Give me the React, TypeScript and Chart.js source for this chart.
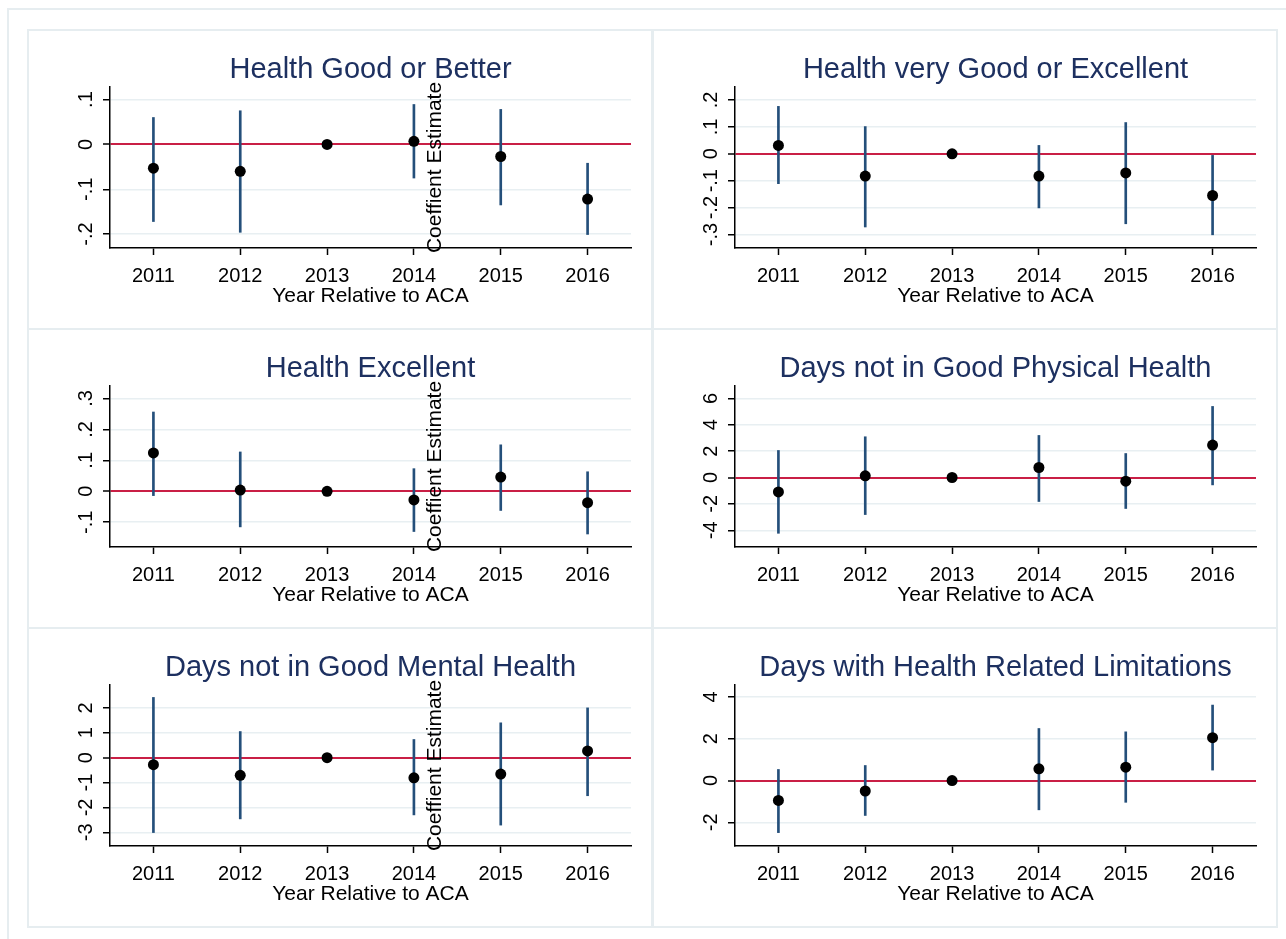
import React, { useEffect, useRef } from 'react';
import { Chart, registerables } from 'chart.js';

Chart.register(...registerables);

const FONT = '"Liberation Sans", Arial, Helvetica, sans-serif';
const TITLE_COLOR = '#1d3060';
const CI_COLOR = '#244f7a';
const ZERO_COLOR = '#c91f45';
const GRID_COLOR = '#e8eff2';
const FRAME_COLOR = '#e6edf0';

const YEARS = [2011, 2012, 2013, 2014, 2015, 2016];
const X_RANGE = [2010.5, 2016.5];
const X_AXIS_TITLE = 'Year Relative to ACA';
const Y_AXIS_TITLE = 'Coeffient Estimate';

// Health good or better
const GOOD_EST = [-0.053, -0.06, 0, 0.007, -0.027, -0.122];
const GOOD_LO = [-0.172, -0.196, 0, -0.075, -0.135, -0.201];
const GOOD_HI = [0.06, 0.075, 0, 0.089, 0.078, -0.042];
const GOOD_TICKS = [-0.2, -0.1, 0, 0.1];
const GOOD_TICK_LABELS = ['-.2', '-.1', '0', '.1'];
const GOOD_RANGE = [-0.231, 0.128];

// Health very good or excellent
const VGOOD_EST = [0.031, -0.083, 0, -0.083, -0.071, -0.155];
const VGOOD_LO = [-0.111, -0.272, 0, -0.201, -0.26, -0.301];
const VGOOD_HI = [0.176, 0.101, 0, 0.031, 0.116, -0.006];
const VGOOD_TICKS = [-0.3, -0.2, -0.1, 0, 0.1, 0.2];
const VGOOD_TICK_LABELS = ['-.3', '-.2', '-.1', '0', '.1', '.2'];
const VGOOD_RANGE = [-0.35, 0.248];

// Health excellent
const EXC_EST = [0.124, 0.004, 0, -0.028, 0.046, -0.037];
const EXC_LO = [-0.014, -0.115, 0, -0.13, -0.062, -0.138];
const EXC_HI = [0.256, 0.127, 0, 0.073, 0.15, 0.063];
const EXC_TICKS = [-0.1, 0, 0.1, 0.2, 0.3];
const EXC_TICK_LABELS = ['-.1', '0', '.1', '.2', '.3'];
const EXC_RANGE = [-0.18, 0.34];

// Days not in good physical health
const PHYS_EST = [-1.09, 0.13, 0, 0.76, -0.28, 2.46];
const PHYS_LO = [-4.23, -2.81, 0, -1.82, -2.35, -0.56];
const PHYS_HI = [2.05, 3.09, 0, 3.19, 1.82, 5.39];
const PHYS_TICKS = [-4, -2, 0, 2, 4, 6];
const PHYS_TICK_LABELS = ['-4', '-2', '0', '2', '4', '6'];
const PHYS_RANGE = [-5.27, 6.94];

// Days not in good mental health
const MENT_EST = [-0.28, -0.71, 0, -0.81, -0.66, 0.27];
const MENT_LO = [-3.01, -2.46, 0, -2.3, -2.71, -1.53];
const MENT_HI = [2.42, 1.05, 0, 0.73, 1.4, 2.0];
const MENT_TICKS = [-3, -2, -1, 0, 1, 2];
const MENT_TICK_LABELS = ['-3', '-2', '-1', '0', '1', '2'];
const MENT_RANGE = [-3.55, 2.92];

// Days with health related limitations
const LIMIT_EST = [-0.95, -0.5, 0, 0.56, 0.64, 2.05];
const LIMIT_LO = [-2.49, -1.67, 0, -1.4, -1.04, 0.5];
const LIMIT_HI = [0.53, 0.72, 0, 2.49, 2.33, 3.61];
const LIMIT_TICKS = [-2, 0, 2, 4];
const LIMIT_TICK_LABELS = ['-2', '0', '2', '4'];
const LIMIT_RANGE = [-3.13, 4.57];

type PanelSpec = {
  title: string;
  est: number[];
  lo: number[];
  hi: number[];
  ticks: number[];
  tickLabels: string[];
  range: number[];
  col: number;
  row: number;
  yTitle: boolean;
};

const PANELS: PanelSpec[] = [
  { title: 'Health Good or Better', est: GOOD_EST, lo: GOOD_LO, hi: GOOD_HI, ticks: GOOD_TICKS, tickLabels: GOOD_TICK_LABELS, range: GOOD_RANGE, col: 0, row: 0, yTitle: true },
  { title: 'Health very Good or Excellent', est: VGOOD_EST, lo: VGOOD_LO, hi: VGOOD_HI, ticks: VGOOD_TICKS, tickLabels: VGOOD_TICK_LABELS, range: VGOOD_RANGE, col: 1, row: 0, yTitle: false },
  { title: 'Health Excellent', est: EXC_EST, lo: EXC_LO, hi: EXC_HI, ticks: EXC_TICKS, tickLabels: EXC_TICK_LABELS, range: EXC_RANGE, col: 0, row: 1, yTitle: true },
  { title: 'Days not in Good Physical Health', est: PHYS_EST, lo: PHYS_LO, hi: PHYS_HI, ticks: PHYS_TICKS, tickLabels: PHYS_TICK_LABELS, range: PHYS_RANGE, col: 1, row: 1, yTitle: false },
  { title: 'Days not in Good Mental Health', est: MENT_EST, lo: MENT_LO, hi: MENT_HI, ticks: MENT_TICKS, tickLabels: MENT_TICK_LABELS, range: MENT_RANGE, col: 0, row: 2, yTitle: true },
  { title: 'Days with Health Related Limitations', est: LIMIT_EST, lo: LIMIT_LO, hi: LIMIT_HI, ticks: LIMIT_TICKS, tickLabels: LIMIT_TICK_LABELS, range: LIMIT_RANGE, col: 1, row: 2, yTitle: false },
];

const COL_LEFT = [27, 652];
const ROW_TOP = [29, 328, 627];
const PANEL_W = 626;
const PANEL_H = 300;
const AREA_LEFT = 83;
const AREA_TOP = 58;
const AREA_RIGHT_PAD = 21;
const AREA_BOTTOM = 219;

// Titles, tick labels and axis titles, drawn in Stata's layout (rotated y labels).
const panelTextPlugin = {
  id: 'panelText',
  afterDraw(chart: any, _args: any, opts: any) {
    const { ctx, chartArea } = chart;
    const xs = chart.scales.x;
    const ys = chart.scales.y;
    const cx = (chartArea.left + chartArea.right) / 2;
    ctx.save();
    ctx.textBaseline = 'alphabetic';
    ctx.textAlign = 'center';

    ctx.fillStyle = TITLE_COLOR;
    ctx.font = `29px ${FONT}`;
    ctx.fillText(opts.title, cx, chartArea.top - 9);

    ctx.fillStyle = '#000';
    ctx.font = `20px ${FONT}`;
    xs.ticks.forEach((t: any) => {
      ctx.fillText(String(t.value), xs.getPixelForValue(t.value), chartArea.bottom + 34);
    });

    ctx.font = `21px ${FONT}`;
    ctx.fillText(X_AXIS_TITLE, cx, chartArea.bottom + 54);

    ctx.font = `20px ${FONT}`;
    ys.ticks.forEach((t: any, i: number) => {
      const py = ys.getPixelForValue(t.value);
      ctx.save();
      ctx.translate(chartArea.left - 18, py);
      ctx.rotate(-Math.PI / 2);
      ctx.fillText(opts.tickLabels[i] ?? String(t.value), 0, 0);
      ctx.restore();
    });

    if (opts.yTitle) {
      ctx.save();
      ctx.font = `21px ${FONT}`;
      ctx.translate(chartArea.left + 331, (chartArea.top + chartArea.bottom) / 2);
      ctx.rotate(-Math.PI / 2);
      ctx.fillText(Y_AXIS_TITLE, 0, 0);
      ctx.restore();
    }
    ctx.restore();
  },
};

function Panel({ spec }: { spec: PanelSpec }) {
  const ref = useRef<HTMLCanvasElement | null>(null);

  useEffect(() => {
    if (!ref.current) return;
    const chart = new Chart(ref.current, {
      type: 'bar',
      data: {
        datasets: [
          {
            type: 'scatter',
            data: YEARS.map((x, i) => ({ x, y: spec.est[i] })),
            pointRadius: 5.5,
            pointBackgroundColor: '#000',
            pointBorderColor: '#000',
            pointBorderWidth: 0,
            order: 0,
          } as any,
          {
            type: 'bar',
            data: YEARS.map((x, i) => ({ x, y: [spec.lo[i], spec.hi[i]] })),
            backgroundColor: CI_COLOR,
            borderWidth: 0,
            barThickness: 2,
            grouped: false,
            order: 1,
          } as any,
        ],
      },
      options: {
        responsive: false,
        animation: false,
        devicePixelRatio: 1,
        layout: { padding: { top: AREA_TOP, right: AREA_RIGHT_PAD, left: 0, bottom: 0 } },
        events: [],
        plugins: {
          legend: { display: false },
          tooltip: { enabled: false },
          title: { display: false },
          panelText: { title: spec.title, tickLabels: spec.tickLabels, yTitle: spec.yTitle },
        } as any,
        scales: {
          x: {
            type: 'linear',
            position: 'bottom',
            min: X_RANGE[0],
            max: X_RANGE[1],
            offset: false,
            grid: {
              display: true,
              drawOnChartArea: false,
              drawTicks: true,
              tickLength: 7,
              tickColor: '#000',
              tickWidth: 1.5,
              offset: false,
            },
            border: { display: true, color: '#000', width: 1.5 },
            ticks: { display: false },
            afterBuildTicks: (s: any) => {
              s.ticks = YEARS.map((v) => ({ value: v }));
            },
            afterFit: (s: any) => {
              s.height = PANEL_H - AREA_BOTTOM;
            },
          },
          y: {
            type: 'linear',
            position: 'left',
            min: spec.range[0],
            max: spec.range[1],
            grid: {
              display: true,
              drawOnChartArea: true,
              drawTicks: true,
              tickLength: 7,
              tickColor: '#000',
              tickWidth: 1.5,
              color: (c: any) => (c.tick && c.tick.value === 0 ? ZERO_COLOR : GRID_COLOR),
              lineWidth: (c: any) => (c.tick && c.tick.value === 0 ? 2 : 1.5),
            },
            border: { display: true, color: '#000', width: 1.5 },
            ticks: { display: false },
            afterBuildTicks: (s: any) => {
              s.ticks = spec.ticks.map((v) => ({ value: v }));
            },
            afterFit: (s: any) => {
              s.width = AREA_LEFT;
            },
          },
        },
      },
      plugins: [panelTextPlugin],
    });
    return () => chart.destroy();
  }, [spec]);

  const left = COL_LEFT[spec.col];
  const top = ROW_TOP[spec.row];
  return (
    <div style={{ position: 'absolute', left, top, width: PANEL_W, height: PANEL_H }}>
      <canvas ref={ref} width={PANEL_W - 1} height={PANEL_H} style={{ position: 'absolute', left: 0, top: 0 }} />
      <div
        style={{
          position: 'absolute',
          left: 0,
          top: 0,
          width: PANEL_W,
          height: PANEL_H + 1,
          boxSizing: 'border-box',
          border: `2px solid ${FRAME_COLOR}`,
          pointerEvents: 'none',
        }}
      />
    </div>
  );
}

export default function App() {
  return (
    <div
      style={{
        position: 'absolute',
        left: 0,
        top: 0,
        width: 1286,
        height: 939,
        overflow: 'hidden',
        background: '#fff',
        fontFamily: FONT,
      }}
    >
      <div
        style={{
          position: 'absolute',
          left: 7,
          top: 8,
          width: 1300,
          height: 960,
          borderTop: `2px solid ${FRAME_COLOR}`,
          borderLeft: `2px solid ${FRAME_COLOR}`,
        }}
      />
      {PANELS.map((p) => (
        <Panel key={p.title} spec={p} />
      ))}
    </div>
  );
}
